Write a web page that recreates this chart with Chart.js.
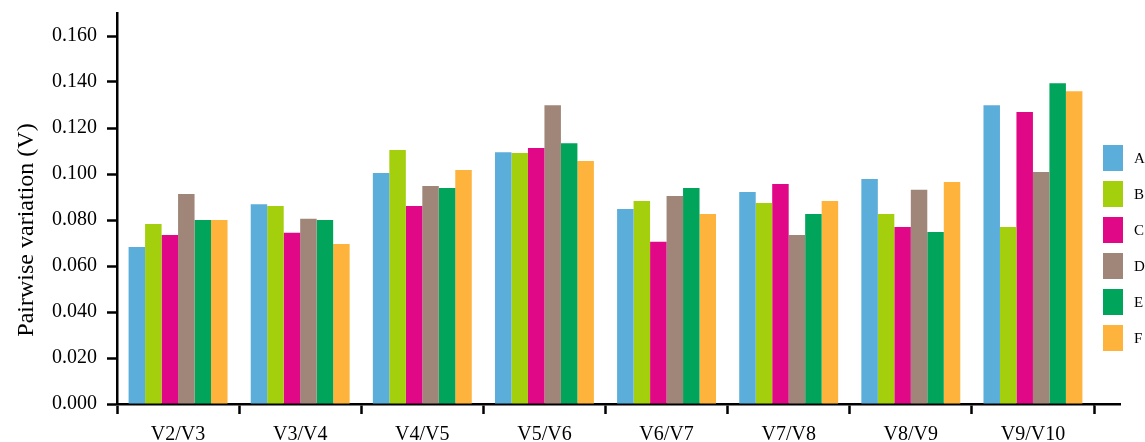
<!DOCTYPE html>
<html>
<head>
<meta charset="utf-8">
<script src="https://cdn.jsdelivr.net/npm/chart.js@4.4.0/dist/chart.umd.min.js"></script>
<style>
  html, body { margin: 0; padding: 0; background: #ffffff; }
  #wrap { width: 1145px; height: 442px; }
</style>
</head>
<body>
<div id="wrap"><canvas id="c" width="1145" height="442"></canvas></div>
<script>
// Pairwise variation (V) per reference-gene set comparison
const categories = ['V2/V3', 'V3/V4', 'V4/V5', 'V5/V6', 'V6/V7', 'V7/V8', 'V8/V9', 'V9/V10'];
const seriesNames = ['A', 'B', 'C', 'D', 'E', 'F'];

const seriesA = [0.0683, 0.0869, 0.1004, 0.1095, 0.0848, 0.0922, 0.0978, 0.1299];
const seriesB = [0.0783, 0.0861, 0.1104, 0.1091, 0.0883, 0.0874, 0.0826, 0.0770];
const seriesC = [0.0735, 0.0745, 0.0861, 0.1113, 0.0705, 0.0957, 0.0770, 0.1270];
const seriesD = [0.0913, 0.0805, 0.0948, 0.1299, 0.0904, 0.0735, 0.0931, 0.1009];
const seriesE = [0.0800, 0.0800, 0.0939, 0.1134, 0.0939, 0.0826, 0.0748, 0.1395];
const seriesF = [0.0800, 0.0696, 0.1017, 0.1057, 0.0826, 0.0883, 0.0965, 0.1360];

const yTickValues = [0, 0.02, 0.04, 0.06, 0.08, 0.10, 0.12, 0.14, 0.16];
const yAxisTitle = 'Pairwise variation (V)';

const seriesColors = ['#5BADDA', '#A3CF0C', '#E00886', '#A08678', '#00A55B', '#FEB33C'];
const allSeries = [seriesA, seriesB, seriesC, seriesD, seriesE, seriesF];

const SERIF = '"Liberation Serif", "Times New Roman", serif';

// Axis title, legend and the right-hand stub of the x axis line
const decorations = {
  id: 'decorations',
  afterDraw(chart) {
    const ctx = chart.ctx;
    const area = chart.chartArea;
    const xs = chart.scales.x;
    ctx.save();
    // x axis line continues a little past the last category
    ctx.strokeStyle = '#000';
    ctx.lineWidth = 2.5;
    ctx.beginPath();
    ctx.moveTo(area.right - 1, xs.top + 0.25);
    ctx.lineTo(1121, xs.top + 0.25);
    ctx.stroke();

    // rotated y axis title
    ctx.fillStyle = '#000';
    ctx.font = '24px ' + SERIF;
    ctx.textAlign = 'center';
    ctx.textBaseline = 'middle';
    ctx.translate(27, 230);
    ctx.rotate(-Math.PI / 2);
    ctx.fillText(yAxisTitle, 0, 0);
    ctx.restore();

    // legend
    ctx.save();
    ctx.font = '15px ' + SERIF;
    ctx.textAlign = 'left';
    ctx.textBaseline = 'middle';
    chart.data.datasets.forEach((ds, i) => {
      const y = 145 + i * 36;
      ctx.fillStyle = ds.backgroundColor;
      ctx.fillRect(1103, y, 20, 26);
      ctx.fillStyle = '#000';
      ctx.fillText(ds.label, 1134, y + 14);
    });
    ctx.restore();
  }
};

new Chart(document.getElementById('c'), {
  type: 'bar',
  data: {
    labels: categories,
    datasets: seriesNames.map((name, i) => ({
      label: name,
      data: allSeries[i],
      backgroundColor: seriesColors[i],
      borderWidth: 0,
      categoryPercentage: 0.81,
      barPercentage: 1.0
    }))
  },
  options: {
    responsive: false,
    animation: false,
    devicePixelRatio: 1,
    layout: { padding: { top: 13, right: 51, left: 0, bottom: 0 } },
    plugins: {
      legend: { display: false },
      tooltip: { enabled: false }
    },
    scales: {
      x: {
        grid: {
          offset: true,
          drawOnChartArea: false,
          drawTicks: true,
          tickLength: 10,
          tickWidth: 2.5,
          tickColor: '#000'
        },
        border: { display: true, color: '#000', width: 2.5 },
        ticks: {
          color: '#000',
          font: { family: SERIF, size: 20 },
          padding: 9,
          maxRotation: 0,
          autoSkip: false
        },
        afterFit(scale) {
          scale.height = 38;
          scale.paddingLeft = 0;
          scale.paddingRight = 0;
        }
      },
      y: {
        min: 0,
        max: 0.17,
        grid: {
          drawOnChartArea: false,
          drawTicks: true,
          tickLength: 10,
          tickWidth: 2.5,
          tickColor: '#000'
        },
        border: { display: true, color: '#000', width: 2.5 },
        ticks: {
          color: '#000',
          font: { family: SERIF, size: 20 },
          padding: 10,
          callback: (v) => Number(v).toFixed(3)
        },
        afterBuildTicks(scale) {
          scale.ticks = yTickValues.map(v => ({ value: v }));
        },
        afterFit(scale) {
          scale.width = 117;
          scale.paddingTop = 0;
          scale.paddingBottom = 0;
        }
      }
    }
  },
  plugins: [decorations]
});
</script>
</body>
</html>
